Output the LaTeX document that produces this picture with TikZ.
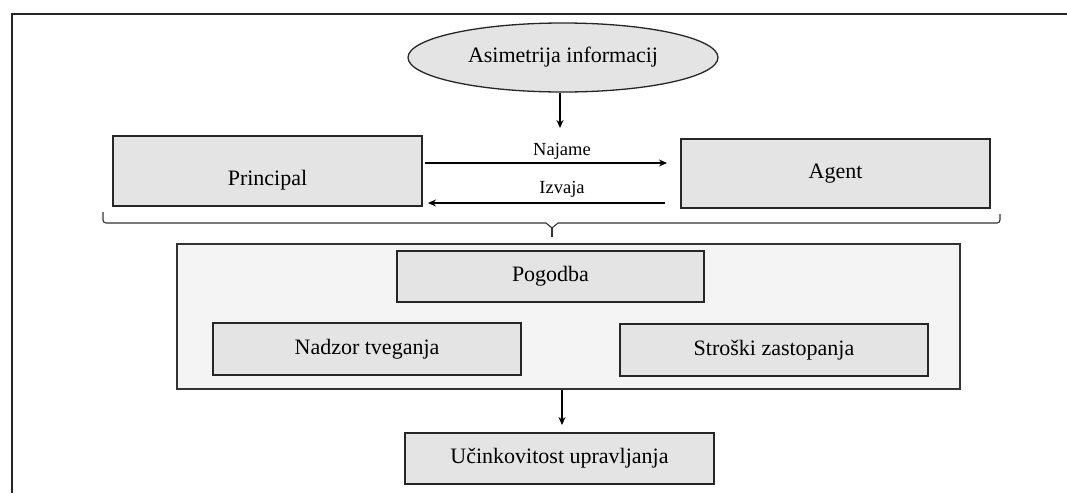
\documentclass[tikz,border=0pt]{standalone}
\usepackage{fontspec}
\setmainfont{Liberation Serif}
\usetikzlibrary{shapes.geometric,arrows.meta,calc}
\definecolor{boxgray}{HTML}{E4E4E4}
\definecolor{biggray}{HTML}{F4F4F4}
\tikzset{
  boxnode/.style={draw=black!85, line width=1.3pt, fill=boxgray, inner sep=0pt,
    font=\fontsize{22}{26}\selectfont},
  lbl/.style={font=\fontsize{18.5}{22}\selectfont, inner sep=0pt},
  arr/.style={line width=1.2pt, -{Stealth[length=8pt,width=7pt]}},
  frameline/.style={line width=1.4pt, black!85},
  bracel/.style={line width=1.1pt, black!80, rounded corners=3pt}
}
\begin{document}
\begin{tikzpicture}[x=1pt,y=-1pt]
\useasboundingbox (0,0) rectangle (1067,493);
% frame
\draw[frameline] (12,493) -- (12,14) -- (1067,14);
% ellipse
\node[boxnode, ellipse, minimum width=310pt, minimum height=69pt] (asim) at (563,57.5) {Asimetrija informacij};
\coordinate (asimend) at (560,128);
\draw[arr] (asim.south -| asimend) -- (asimend);
% principal / agent
\node[boxnode, minimum width=309pt, minimum height=70pt] (princ) at (267.5,171) {};
\node[font=\fontsize{22}{26}\selectfont, inner sep=0pt] (princtxt) at (267.5,180) {Principal};
\node[boxnode, minimum width=309pt, minimum height=69pt] (agent) at (835.5,173.5) {Agent};
\coordinate (najL) at (425,163);
\coordinate (najR) at (667,163);
\coordinate (izvR) at (665,203);
\coordinate (izvL) at (428,203);
\draw[arr] (najL) -- (najR);
\draw[arr] (izvR) -- (izvL);
\node[lbl] (najame) at (562,151) {Najame};
\node[lbl] (izvaja) at (562,189) {Izvaja};
% brace
\coordinate (brL) at (103,212);
\coordinate (brR) at (1000,214);
\coordinate (brC) at (552,223);
\draw[bracel] (brL) -- (103,223) -- (546,223);
\draw[bracel] (558,223) -- (1000,223) -- (brR);
\draw[line width=1.1pt, black!80] (546,223) -- (552,228) -- (558,223);
\draw[line width=1.3pt, black!80] (552,228) -- (552,237);
% big box
\node[draw=black!80, line width=1.2pt, fill=biggray, minimum width=783pt, minimum height=145pt, inner sep=0pt] (big) at (568.5,316.5) {};
\node[boxnode, minimum width=307pt, minimum height=51pt] (pog) at (550.5,276.5) {Pogodba};
\node[boxnode, minimum width=308pt, minimum height=52pt] (nad) at (367,349) {Nadzor tveganja};
\node[boxnode, minimum width=308pt, minimum height=52pt] (str) at (774,350) {Stroški zastopanja};
% result
\node[boxnode, minimum width=309pt, minimum height=51pt] (uc) at (559.5,458.5) {Učinkovitost upravljanja};
\coordinate (ucarr) at (562,425);
\draw[arr] (big.south -| ucarr) -- (ucarr);
\end{tikzpicture}
\end{document}
